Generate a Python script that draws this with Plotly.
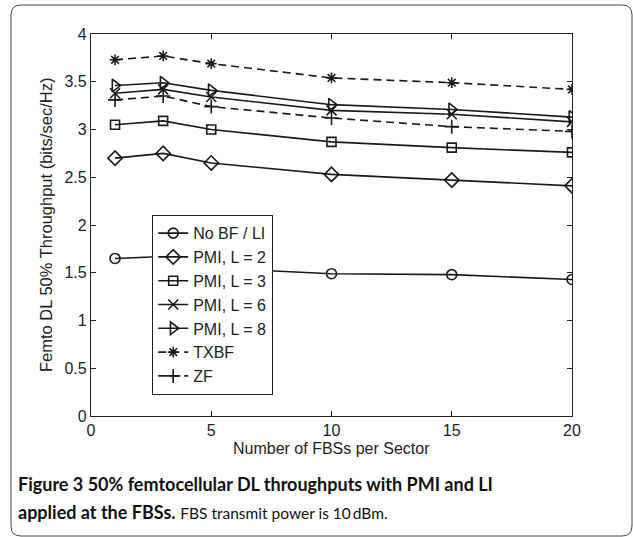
import plotly.graph_objects as go

# ---- data ----
fbs = [1, 3, 5, 10, 15, 20]
series_names = ["No BF / LI", "PMI, L = 2", "PMI, L = 3", "PMI, L = 6", "PMI, L = 8", "TXBF", "ZF"]
no_bf = [1.65, 1.67, 1.55, 1.49, 1.48, 1.43]
pmi_l2 = [2.70, 2.75, 2.65, 2.53, 2.47, 2.41]
pmi_l3 = [3.05, 3.09, 3.00, 2.87, 2.81, 2.76]
pmi_l6 = [3.38, 3.42, 3.34, 3.20, 3.16, 3.08]
pmi_l8 = [3.46, 3.49, 3.41, 3.26, 3.21, 3.13]
txbf = [3.73, 3.77, 3.69, 3.54, 3.49, 3.42]
zf = [3.31, 3.35, 3.24, 3.12, 3.03, 2.98]
x_ticks = [0, 5, 10, 15, 20]
y_ticks = [0, 0.5, 1, 1.5, 2, 2.5, 3, 3.5, 4]
y_tick_labels = ["0", "0.5", "1", "1.5", "2", "2.5", "3", "3.5", "4"]

series_values = [no_bf, pmi_l2, pmi_l3, pmi_l6, pmi_l8, txbf, zf]
symbols = ["circle-open", "diamond-open", "square-open", "x-thin-open",
           "triangle-right-open", "asterisk-open", "cross-thin-open"]
dashes = ["solid"] * 5 + ["8px,5px", "8px,5px"]
sizes = [10, 11, 9, 10, 11, 9, 10]

W, H = 633, 537
L, R, T, B = 91, 572, 34, 416

def px(p):
    return (p - L) / (R - L)

def py(p):
    return (B - p) / (B - T)

fig = go.Figure()
for name, vals, sym, dsh, sz in zip(series_names, series_values, symbols, dashes, sizes):
    fig.add_trace(go.Scatter(
        x=fbs, y=vals, name=name, mode="lines+markers",
        line=dict(color="#1a1a1a", width=1.6, dash=dsh),
        marker=dict(symbol=sym, size=sz, color="#1a1a1a",
                    line=dict(color="#1a1a1a", width=1.6)),
    ))

axis_common = dict(
    showline=True, linecolor="#222", linewidth=1.2, mirror="ticks",
    ticks="inside", ticklen=5, tickcolor="#222", showgrid=False, zeroline=False,
    tickfont=dict(family="Liberation Sans, Arial", size=16, color="#222"),
)
fig.update_xaxes(range=[0, 20], tickvals=x_ticks, **axis_common)
fig.update_yaxes(range=[0, 4], tickvals=y_ticks, ticktext=y_tick_labels, **axis_common)

# rounded frame
x0, y0, x1, y1, r = px(11), py(5), px(632), py(536), 10
rx, ry = r / (R - L), r / (B - T)
path = (f"M {x0+rx} {y0} L {x1-rx} {y0} Q {x1} {y0} {x1} {y0-ry} "
        f"L {x1} {y1+ry} Q {x1} {y1} {x1-rx} {y1} L {x0+rx} {y1} "
        f"Q {x0} {y1} {x0} {y1+ry} L {x0} {y0-ry} Q {x0} {y0} {x0+rx} {y0} Z")
fig.add_shape(type="path", path=path, xref="paper", yref="paper",
              line=dict(color="#444", width=1))

fig.update_layout(
    width=W, height=H,
    margin=dict(l=L, r=W - R, t=T, b=H - B),
    paper_bgcolor="white", plot_bgcolor="white",
    showlegend=True,
    legend=dict(x=px(152), y=py(215), xanchor="left", yanchor="top",
                bgcolor="white", bordercolor="#222", borderwidth=1.2,
                font=dict(family="Liberation Sans, Arial", size=16, color="#222"),
                itemwidth=30, tracegroupgap=0),
    annotations=[
        dict(text="Femto DL 50% Throughput (bits/sec/Hz)", textangle=-90,
             x=px(46), y=py(225), xref="paper", yref="paper",
             xanchor="center", yanchor="middle", showarrow=False,
             font=dict(family="Liberation Sans, Arial", size=16.5, color="#222")),
        dict(text="Number of FBSs per Sector",
             x=px(331), y=py(448), xref="paper", yref="paper",
             xanchor="center", yanchor="middle", showarrow=False,
             font=dict(family="Liberation Sans, Arial", size=16, color="#222")),
        dict(text="<b>Figure 3 50% femtocellular DL throughputs with PMI and LI</b>",
             x=px(16), y=py(484), xref="paper", yref="paper",
             xanchor="left", yanchor="middle", showarrow=False,
             font=dict(family="Lato", size=18, color="#111")),
        dict(text="<b>applied at the FBSs.</b> <span style='font-size:15.5px'>FBS transmit power is 10\u2009dBm.</span>",
             x=px(16), y=py(512), xref="paper", yref="paper",
             xanchor="left", yanchor="middle", showarrow=False,
             font=dict(family="Lato", size=18, color="#111")),
    ],
)

fig.write_html("out.html")
